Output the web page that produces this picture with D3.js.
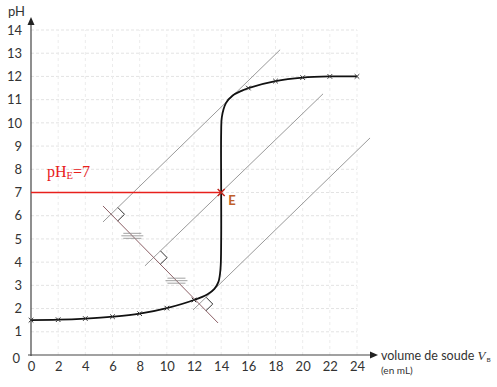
<!DOCTYPE html>
<html><head><meta charset="utf-8">
<script src="https://cdn.jsdelivr.net/npm/d3@7"></script>
<style>body{margin:0;background:#fff}svg{display:block}</style>
</head><body>
<svg id="c" width="497" height="387"></svg>
<script>
// measured points (mL, pH)
const measuredX = [0, 2, 4, 6, 8, 10, 12, 16, 18, 20, 22, 24];
const measuredPH = [1.5, 1.52, 1.57, 1.65, 1.78, 2.02, 2.37, 11.5, 11.8, 11.95, 12.0, 12.0];
// hand-drawn curve through the points
const curveX = [0, 2, 4, 6, 8, 10, 12, 13, 13.5, 13.8, 13.95, 14, 14, 14, 14.05, 14.35, 14.85, 15.5, 16, 18, 20, 22, 24];
const curvePH = [1.5, 1.52, 1.57, 1.65, 1.78, 2.02, 2.37, 2.62, 2.85, 3.15, 3.7, 5, 7, 9.6, 10.25, 10.85, 11.18, 11.38, 11.5, 11.8, 11.95, 12.0, 12.0];
const equivalence = {x: 14, pH: 7};
// parallel tangents (start / end) and their perpendicular
const tangentStarts = [[5.3, 5.73], [8.39, 3.84], [11.93, 1.94]];
const tangentEnds = [[18.34, 13.15], [21.5, 11.25], [24.96, 9.35]];
const perpendicular = [[5.3, 6.42], [13.77, 1.38]];
const xTicks = [0, 2, 4, 6, 8, 10, 12, 14, 16, 18, 20, 22, 24];
const yTicks = [0, 1, 2, 3, 4, 5, 6, 7, 8, 9, 10, 11, 12, 13, 14];

const svg = d3.select("#c");
const x = d3.scaleLinear().domain([0, 24]).range([31, 357]);
const y = d3.scaleLinear().domain([0, 14]).range([355, 30]);
const font = "Lato, 'Open Sans', sans-serif";

// grid
const g = svg.append("g");
g.selectAll("line.h").data(yTicks.slice(1)).join("line")
  .attr("x1", x(0)).attr("x2", x(24)).attr("y1", d => y(d)).attr("y2", d => y(d))
  .attr("stroke", "#e3e3e3").attr("stroke-width", 1).attr("stroke-dasharray", "3,2");
g.selectAll("line.v").data(xTicks.slice(1)).join("line")
  .attr("x1", d => x(d)).attr("x2", d => x(d)).attr("y1", y(0)).attr("y2", y(14))
  .attr("stroke", "#ececec").attr("stroke-width", 1).attr("stroke-dasharray", "3,3");

// axes
const xAxis = d3.axisBottom(x).tickValues(xTicks).tickSize(0).tickPadding(7);
const yAxis = d3.axisLeft(y).tickValues(yTicks).tickSize(0).tickPadding(9);
const gx = svg.append("g").attr("transform", `translate(0,${y(0)})`).call(xAxis);
const gy = svg.append("g").attr("transform", `translate(${x(0)},0)`).call(yAxis);
[gx, gy].forEach(a => {
  a.select(".domain").remove();
  a.selectAll("text").attr("font-family", font).attr("font-size", 13).attr("fill", "#333");
});
gy.selectAll(".tick").filter(d => d === 0).select("text").attr("dy", "0.55em").attr("dx", "-2");
svg.append("line").attr("x1", x(0)).attr("x2", x(0)).attr("y1", y(0) + 1).attr("y2", 22)
  .attr("stroke", "#444").attr("stroke-width", 1.2);
svg.append("line").attr("x1", x(0) - 3).attr("x2", 372).attr("y1", y(0)).attr("y2", y(0))
  .attr("stroke", "#444").attr("stroke-width", 1.2);
svg.append("path").attr("d", `M${x(0)-3.5},${25} L${x(0)},${17} L${x(0)+3.5},${25} Z`).attr("fill", "#222");
svg.append("path").attr("d", `M370,${y(0)-3.5} L378,${y(0)} L370,${y(0)+3.5} Z`).attr("fill", "#222");

svg.append("text").attr("x", 8).attr("y", 16).attr("font-family", font).attr("font-size", 13).attr("fill", "#333").text("pH");
const xl = svg.append("text").attr("x", 381).attr("y", 360).attr("font-family", font).attr("font-size", 12.5).attr("fill", "#333");
xl.append("tspan").text("volume de soude ");
xl.append("tspan").attr("font-family", "'Liberation Serif', serif").attr("font-style", "italic").attr("font-size", 13).text("V");
xl.append("tspan").attr("font-size", 6.5).attr("dy", 1.5).attr("dx", 1).text("B");
svg.append("text").attr("x", 381).attr("y", 374).attr("font-family", font).attr("font-size", 10).attr("fill", "#333").text("(en mL)");

// tangents
const P = d => [x(d[0]), y(d[1])];
tangentStarts.forEach((s, i) => {
  const a = P(s), b = P(tangentEnds[i]);
  svg.append("line").attr("x1", a[0]).attr("y1", a[1]).attr("x2", b[0]).attr("y2", b[1])
    .attr("stroke", "#9a9a9a").attr("stroke-width", 1);
});
const p0 = P(perpendicular[0]), p1 = P(perpendicular[1]);
svg.append("line").attr("x1", p0[0]).attr("y1", p0[1]).attr("x2", p1[0]).attr("y2", p1[1])
  .attr("stroke", "#8c5f66").attr("stroke-width", 1);

// intersections & right-angle marks
function inter(a, b, c, d) {
  const r = [b[0]-a[0], b[1]-a[1]], s = [d[0]-c[0], d[1]-c[1]];
  const den = r[0]*s[1] - r[1]*s[0];
  const t = ((c[0]-a[0])*s[1] - (c[1]-a[1])*s[0]) / den;
  return [a[0] + t*r[0], a[1] + t*r[1]];
}
const pts = [];
tangentStarts.forEach((s, i) => {
  const a = P(s), b = P(tangentEnds[i]);
  const I = inter(a, b, p0, p1);
  pts.push(I);
  const tl = Math.hypot(b[0]-a[0], b[1]-a[1]);
  const u = [(b[0]-a[0])/tl, (b[1]-a[1])/tl];
  const pl = Math.hypot(p1[0]-p0[0], p1[1]-p0[1]);
  const v = [(p1[0]-p0[0])/pl, (p1[1]-p0[1])/pl];
  const k = 9.5;
  svg.append("path")
    .attr("d", `M${I[0]+u[0]*k},${I[1]+u[1]*k} L${I[0]+u[0]*k+v[0]*k},${I[1]+u[1]*k+v[1]*k} L${I[0]+v[0]*k},${I[1]+v[1]*k}`)
    .attr("fill", "none").attr("stroke", "#333").attr("stroke-width", 1);
});
// equal-length marks
for (let i = 0; i < 2; i++) {
  const m = [(pts[i][0]+pts[i+1][0])/2, (pts[i][1]+pts[i+1][1])/2];
  [-2.5, 0, 2.5].forEach((o, j) => {
    const hw = j === 1 ? 11 : 9;
    svg.append("line").attr("x1", m[0]-hw).attr("x2", m[0]+hw).attr("y1", m[1]+o).attr("y2", m[1]+o)
      .attr("stroke", "#8a8a8a").attr("stroke-width", 0.8);
  });
}

// red pHE line
svg.append("line").attr("x1", x(0)).attr("x2", x(equivalence.x)).attr("y1", y(equivalence.pH)).attr("y2", y(equivalence.pH))
  .attr("stroke", "#e8201c").attr("stroke-width", 1.3);
const lab = svg.append("text").attr("x", 47).attr("y", 177).attr("font-family", "'Liberation Serif', 'Times New Roman', serif")
  .attr("font-size", 16).attr("fill", "#e8201c");
lab.append("tspan").text("pH");
lab.append("tspan").attr("font-size", 10.5).attr("dy", 2).text("E");
lab.append("tspan").attr("dy", -2).text("=7");

// titration curve
const line = d3.line().x(d => x(d[0])).y(d => y(d[1])).curve(d3.curveCatmullRom.alpha(0.5));
svg.append("path").datum(curveX.map((v, i) => [v, curvePH[i]])).attr("d", line)
  .attr("fill", "none").attr("stroke", "#111").attr("stroke-width", 1.8);

// markers
const ms = 2.3;
svg.selectAll("path.m").data(measuredX.map((v, i) => [v, measuredPH[i]])).join("path")
  .attr("d", d => { const cx = x(d[0]), cy = y(d[1]); return `M${cx-ms},${cy-ms}L${cx+ms},${cy+ms}M${cx-ms},${cy+ms}L${cx+ms},${cy-ms}`; })
  .attr("stroke", "#333").attr("stroke-width", 1);
const ex = x(equivalence.x), ey = y(equivalence.pH);
svg.append("path").attr("d", `M${ex-3.5},${ey-3.5}L${ex+3.5},${ey+3.5}M${ex-3.5},${ey+3.5}L${ex+3.5},${ey-3.5}`)
  .attr("stroke", "#c0281e").attr("stroke-width", 1.5);
svg.append("text").attr("x", ex + 7).attr("y", ey + 12).attr("font-family", font).attr("font-size", 13)
  .attr("font-weight", "bold").attr("fill", "#c0602a").text("E");
</script>
</body></html>
